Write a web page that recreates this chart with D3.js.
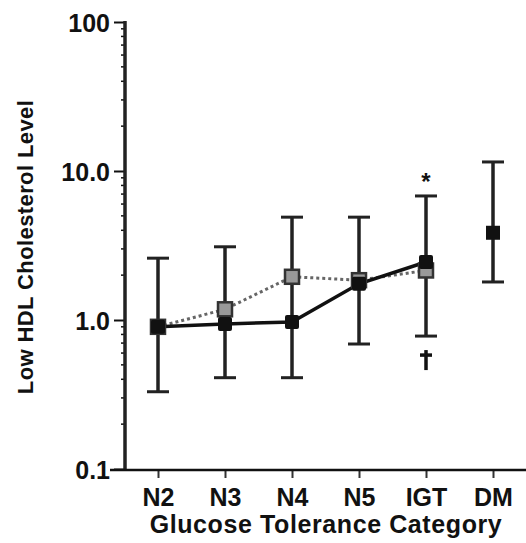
<!DOCTYPE html>
<html><head><meta charset="utf-8">
<script src="https://cdn.jsdelivr.net/npm/d3@7"></script>
<style>body{margin:0;background:#fff}svg text{font-family:"Liberation Sans",Arial,sans-serif;font-weight:bold;fill:#111}</style>
</head><body><svg id="c" width="526" height="543"></svg>
<script>
const categories = ["N2","N3","N4","N5","IGT","DM"];
const blackSeries = [0.90, 0.94, 0.97, 1.75, 2.45, null];
const graySeries  = [0.90, 1.18, 1.95, 1.85, 2.15, null];
const dmPoint = 3.85;
const errUpper = [2.6, 3.1, 4.9, 4.9, 6.8, 11.5];
const errLower = [0.33, 0.41, 0.41, 0.69, 0.78, 1.8];
const yTicks = [0.1, 1, 10, 100];
const yTickLabels = ["0.1","1.0","10.0","100"];

const svg = d3.select("#c");
const x = d3.scalePoint().domain(categories).range([158, 493]);
const y = d3.scaleLog().domain([0.1, 100]).range([469, 22]);
const ink = "#111";

// axes
const yAxis = d3.axisLeft(y).tickValues(yTicks).tickFormat((d,i)=>yTickLabels[i]).tickSize(11).tickPadding(4);
const gy = svg.append("g").attr("transform","translate(125,0)").call(yAxis);
gy.select(".domain").remove();
gy.selectAll(".tick line").attr("stroke",ink).attr("stroke-width",2);
gy.selectAll(".tick text").style("font-size","25px").attr("dy","0.36em");
// minor ticks
const minor = [];
for (let d=0.1; d<100; d*=10) for (let k=2;k<=9;k++) minor.push(d*k);
svg.append("g").selectAll("line").data(minor).join("line")
  .attr("x1",121).attr("x2",125).attr("y1",d=>y(d)).attr("y2",d=>y(d))
  .attr("stroke",ink).attr("stroke-width",1.5);
svg.append("line").attr("x1",125).attr("x2",125).attr("y1",y(100)-1).attr("y2",471)
  .attr("stroke","#222").attr("stroke-width",3.5);

const xAxis = d3.axisBottom(x).tickSize(8).tickPadding(10);
const gx = svg.append("g").attr("transform","translate(0,470)").call(xAxis);
gx.select(".domain").remove();
gx.selectAll(".tick line").attr("stroke","#333").attr("stroke-width",2);
gx.selectAll(".tick text").style("font-size","25px");
svg.append("line").attr("x1",110).attr("x2",526).attr("y1",470).attr("y2",470)
  .attr("stroke",ink).attr("stroke-width",2.5);

// titles
svg.append("text").attr("x",326).attr("y",533).attr("text-anchor","middle")
  .style("font-size","25px").style("letter-spacing","0.6px").text("Glucose Tolerance Category");
svg.append("text").attr("transform","translate(33,247) rotate(-90)").attr("text-anchor","middle")
  .style("font-size","22px").style("letter-spacing","0.4px").text("Low HDL Cholesterol Level");

// lines
const idx = d3.range(5);
const line = d3.line().x(i=>x(categories[i]));
svg.append("path").attr("d", line.y(i=>y(graySeries[i]))(idx))
  .attr("fill","none").attr("stroke","#666").attr("stroke-width",3).attr("stroke-dasharray","3,3");
svg.append("path").attr("d", line.y(i=>y(blackSeries[i]))(idx))
  .attr("fill","none").attr("stroke",ink).attr("stroke-width",3.5);

// error bars
const eb = svg.append("g");
categories.forEach((c,i)=>{
  const cx = x(c);
  eb.append("line").attr("x1",cx).attr("x2",cx).attr("y1",y(errUpper[i])).attr("y2",y(errLower[i]))
    .attr("stroke","#222").attr("stroke-width",3.5);
  [errUpper[i], errLower[i]].forEach(v=>{
    eb.append("line").attr("x1",cx-11).attr("x2",cx+11).attr("y1",y(v)).attr("y2",y(v))
      .attr("stroke","#222").attr("stroke-width",3);
  });
});

// markers
const ms = 14;
svg.append("g").selectAll("rect").data(idx).join("rect")
  .attr("x",i=>x(categories[i])-ms/2).attr("y",i=>y(graySeries[i])-ms/2)
  .attr("width",ms).attr("height",ms).attr("fill","#999").attr("stroke","#333").attr("stroke-width",2.5);
svg.append("g").selectAll("rect").data(idx).join("rect")
  .attr("x",i=>x(categories[i])-ms/2).attr("y",i=>y(blackSeries[i])-ms/2)
  .attr("width",ms).attr("height",ms).attr("rx",2).attr("fill",ink);
svg.append("rect").attr("x",x("DM")-ms/2).attr("y",y(dmPoint)-ms/2).attr("width",ms).attr("height",ms).attr("fill",ink);

// significance markers
svg.append("text").attr("x",x("IGT")).attr("y",y(errUpper[4])-6).attr("text-anchor","middle")
  .style("font-size","24px").text("*");
const dx = x("IGT"), dy0 = y(errLower[4]) + 14;
const dag = svg.append("g").attr("stroke",ink);
dag.append("line").attr("x1",dx).attr("x2",dx).attr("y1",dy0).attr("y2",dy0+20).attr("stroke-width",3.5);
dag.append("line").attr("x1",dx-6).attr("x2",dx+6).attr("y1",dy0+5).attr("y2",dy0+5).attr("stroke-width",3.5);
</script></body></html>
